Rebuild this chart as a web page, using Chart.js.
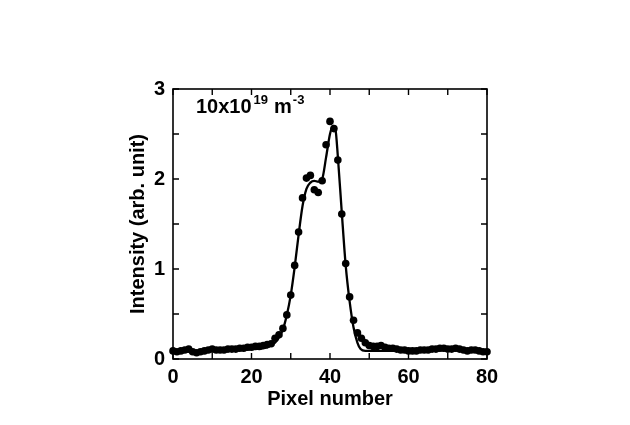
<!DOCTYPE html>
<html>
<head>
<meta charset="utf-8">
<script src="https://cdn.jsdelivr.net/npm/chart.js@4"></script>
<style>
  html, body { margin: 0; padding: 0; background: #fff; }
  #wrap { width: 630px; height: 425px; }
</style>
</head>
<body>
<div id="wrap"><canvas id="intensityChart" width="630" height="425"></canvas></div>
<script>
// Measured intensity per pixel (dots)
const pixels = [];
for (let i = 0; i <= 80; i++) pixels.push(i);
const intensity = [
    0.09, 0.08, 0.09, 0.10, 0.11, 0.08, 0.07, 0.08, 0.09, 0.10,
    0.11, 0.10, 0.10, 0.10, 0.11, 0.11, 0.11, 0.12, 0.12, 0.13,
    0.13, 0.14, 0.14, 0.15, 0.16, 0.17, 0.23, 0.27, 0.34, 0.49,
    0.71, 1.04, 1.41, 1.79, 2.01, 2.04, 1.88, 1.85, 1.98, 2.38,
    2.64, 2.56, 2.21, 1.61, 1.06, 0.69, 0.43, 0.29, 0.23, 0.18,
    0.15, 0.14, 0.14, 0.15, 0.13, 0.12, 0.12, 0.11, 0.10, 0.10,
    0.09, 0.09, 0.09, 0.10, 0.10, 0.10, 0.11, 0.11, 0.12, 0.12,
    0.11, 0.11, 0.12, 0.11, 0.10, 0.09, 0.10, 0.10, 0.09, 0.08,
    0.08
];

// Fitted curve (solid line)
const fitX = [0, 10, 20, 24, 26, 27, 28, 29, 30, 31, 32, 33, 34, 35, 36, 37, 38, 39, 40, 40.8, 41.4, 42, 43, 44, 45, 46, 47, 47.8, 49, 50, 60, 70, 80];
const fitY = [0.08, 0.09, 0.11, 0.13, 0.18, 0.24, 0.33, 0.49, 0.71, 1.02, 1.38, 1.70, 1.89, 1.96, 1.98, 1.97, 2.00, 2.24, 2.50, 2.59, 2.55, 2.25, 1.63, 1.04, 0.64, 0.35, 0.18, 0.11, 0.09, 0.09, 0.09, 0.10, 0.08];

// Axis ticks
const xTicks = [0, 20, 40, 60, 80];
const yTicks = [0, 1, 2, 3];
const xMinorStep = 10;
const yMinorStep = 0.5;

const FONT = '"Liberation Sans", Arial, sans-serif';

// Frame with inward ticks on all four sides, plus the density label
const framePlugin = {
    id: 'frame',
    afterDraw(chart) {
        const { ctx, chartArea: a, scales: { x, y } } = chart;
        ctx.save();
        ctx.strokeStyle = '#000';
        ctx.lineWidth = 1.6;
        ctx.strokeRect(a.left, a.top, a.right - a.left, a.bottom - a.top);

        const len = 6;
        ctx.lineWidth = 1.4;
        ctx.beginPath();
        for (let v = x.min; v <= x.max + 1e-9; v += xMinorStep) {
            const px = x.getPixelForValue(v);
            ctx.moveTo(px, a.bottom); ctx.lineTo(px, a.bottom - len);
            ctx.moveTo(px, a.top); ctx.lineTo(px, a.top + len);
        }
        for (let v = y.min; v <= y.max + 1e-9; v += yMinorStep) {
            const py = y.getPixelForValue(v);
            ctx.moveTo(a.left, py); ctx.lineTo(a.left + len, py);
            ctx.moveTo(a.right, py); ctx.lineTo(a.right - len, py);
        }
        ctx.stroke();

        // 10x10^19 m^-3
        ctx.fillStyle = '#000';
        ctx.textBaseline = 'alphabetic';
        let tx = a.left + 23;
        const by = a.top + 24;
        ctx.font = 'bold 20px ' + FONT;
        ctx.fillText('10x10', tx, by);
        tx += ctx.measureText('10x10').width + 2;
        ctx.font = 'bold 13px ' + FONT;
        ctx.fillText('19', tx, by - 9);
        tx += ctx.measureText('19').width + 6;
        ctx.font = 'bold 20px ' + FONT;
        ctx.fillText('m', tx, by);
        tx += ctx.measureText('m').width + 1;
        ctx.font = 'bold 13px ' + FONT;
        ctx.fillText('-3', tx, by - 9);
        ctx.restore();
    }
};

const ctx = document.getElementById('intensityChart').getContext('2d');

const chart = new Chart(ctx, {
    type: 'scatter',
    data: {
        datasets: [{
            label: 'Measured',
            data: pixels.map((p, i) => ({ x: p, y: intensity[i] })),
            backgroundColor: '#000',
            borderColor: '#000',
            pointRadius: 3.8,
            pointHoverRadius: 3.8,
            borderWidth: 0,
            clip: false
        }, {
            label: 'Fit',
            data: fitX.map((v, i) => ({ x: v, y: fitY[i] })),
            showLine: true,
            borderColor: '#000',
            borderWidth: 2.3,
            pointRadius: 0,
            cubicInterpolationMode: 'monotone',
            fill: false
        }]
    },
    options: {
        responsive: false,
        animation: false,
        layout: {
            padding: { left: 126, top: 89, right: 143, bottom: 14 }
        },
        plugins: {
            legend: { display: false },
            tooltip: { enabled: false }
        },
        scales: {
            x: {
                type: 'linear',
                min: 0,
                max: 80,
                afterBuildTicks: scale => { scale.ticks = xTicks.map(v => ({ value: v })); },
                afterFit: scale => { scale.height = 52; },
                grid: { display: false, drawTicks: false },
                border: { display: false },
                ticks: {
                    color: '#000',
                    padding: 6,
                    maxRotation: 0,
                    autoSkip: false,
                    font: { family: FONT, size: 20, weight: 'bold' }
                },
                title: {
                    display: true,
                    text: 'Pixel number',
                    color: '#000',
                    padding: 0,
                    font: { family: FONT, size: 20, weight: 'bold' }
                }
            },
            y: {
                type: 'linear',
                min: 0,
                max: 3,
                afterBuildTicks: scale => { scale.ticks = yTicks.map(v => ({ value: v })); },
                afterFit: scale => { scale.width = 47; },
                grid: { display: false, drawTicks: false },
                border: { display: false },
                ticks: {
                    color: '#000',
                    padding: 8,
                    font: { family: FONT, size: 20, weight: 'bold' }
                },
                title: {
                    display: true,
                    text: 'Intensity (arb. unit)',
                    color: '#000',
                    padding: 0,
                    font: { family: FONT, size: 20, weight: 'bold' }
                }
            }
        }
    },
    plugins: [framePlugin]
});
</script>
</body>
</html>
